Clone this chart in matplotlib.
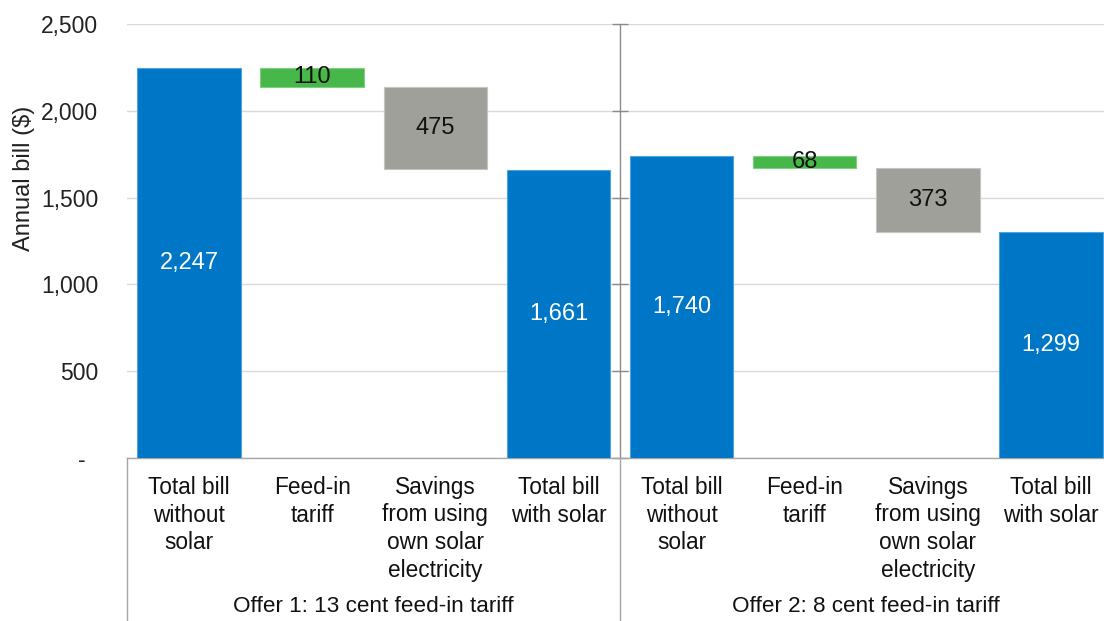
import matplotlib
matplotlib.use("Agg")
import matplotlib.pyplot as plt
from matplotlib.lines import Line2D
from matplotlib.ticker import FuncFormatter

plt.rcParams['font.family'] = ['Liberation Sans', 'DejaVu Sans']

categories = ["Total bill\nwithout\nsolar", "Feed-in\ntariff",
              "Savings\nfrom using\nown solar\nelectricity", "Total bill\nwith solar"]
groups = ["Offer 1: 13 cent feed-in tariff", "Offer 2: 8 cent feed-in tariff"]
offer1 = [2247, 110, 475, 1661]
offer2 = [1740, 68, 373, 1299]
y_ticks = [0, 500, 1000, 1500, 2000, 2500]

BLUE, GREEN, GRAY = "#0077C6", "#48B749", "#A0A09A"
EDGE = {BLUE: "#4FA3DC", GREEN: "#7FD080", GRAY: "#C4C4C0"}

fig = plt.figure(figsize=(11.04, 6.21), dpi=100)
W, H = 1104, 621
left_px, right_px, top_px, bot_px = 127.4, 1112.6, 24, 458
ax = fig.add_axes([left_px / W, 1 - bot_px / H, (right_px - left_px) / W, (bot_px - top_px) / H])

ax.set_xlim(-0.5, 7.5)
ax.set_ylim(0, 2500)

bw = 0.84
for g, vals in enumerate([offer1, offer2]):
    total, feed, save, final = vals
    xs = [g * 4 + i for i in range(4)]
    bottoms = [0, total - feed, total - feed - save, 0]
    heights = [total, feed, save, final]
    colors = [BLUE, GREEN, GRAY, BLUE]
    for x, b, h, c in zip(xs, bottoms, heights, colors):
        ax.bar(x, h, bottom=b, width=bw, color=c, edgecolor=EDGE[c], linewidth=0.8, zorder=3)
        ax.text(x, b + h / 2, f"{h:,}", ha="center", va="center", fontsize=17,
                color="white" if c == BLUE else "#111111", zorder=4)

# gridlines
ax.set_yticks(y_ticks)
ax.yaxis.set_major_formatter(FuncFormatter(lambda v, p: "-  " if v == 0 else f"{int(v):,}"))
ax.grid(axis="y", color="#D9D9D9", linewidth=1, zorder=0)
ax.tick_params(axis="y", length=0, pad=21, labelsize=16.5, labelcolor="#222222")
ax.set_xticks([])
for s in ["left", "right", "top"]:
    ax.spines[s].set_visible(False)
ax.spines["bottom"].set_color("#A6A6A6")
ax.spines["bottom"].set_linewidth(1)

# middle divider with ticks
ax.axvline(3.5, color="#8C8C8C", linewidth=1, zorder=2)
ax.plot([3.5] * len(y_ticks), y_ticks, linestyle="none", marker="_", markersize=11,
        markeredgewidth=1, color="#8C8C8C", zorder=2, clip_on=False)

tr = ax.get_xaxis_transform()
ax_h = bot_px - top_px
bottom_frac = -(H - bot_px) / ax_h
for xs in [-0.5, 3.5]:
    ax.add_line(Line2D([xs, xs], [0, bottom_frac], transform=tr, color="#A6A6A6",
                       linewidth=1, clip_on=False))

# category labels
for g in range(2):
    for i, lab in enumerate(categories):
        ax.text(g * 4 + i, -18 / ax_h, lab, transform=tr, ha="center", va="top",
                fontsize=16.3, linespacing=1.25, color="#111111")
    ax.text(g * 4 + 1.5, -(607 - bot_px) / ax_h, groups[g], transform=tr, ha="center",
            va="center", fontsize=16.2, color="#111111")

fig.text(24 / W, 1 - 178 / H, "Annual bill ($)", rotation=90, ha="center", va="center",
         fontsize=17, color="#222222")

fig.savefig("out.png", dpi=100)
